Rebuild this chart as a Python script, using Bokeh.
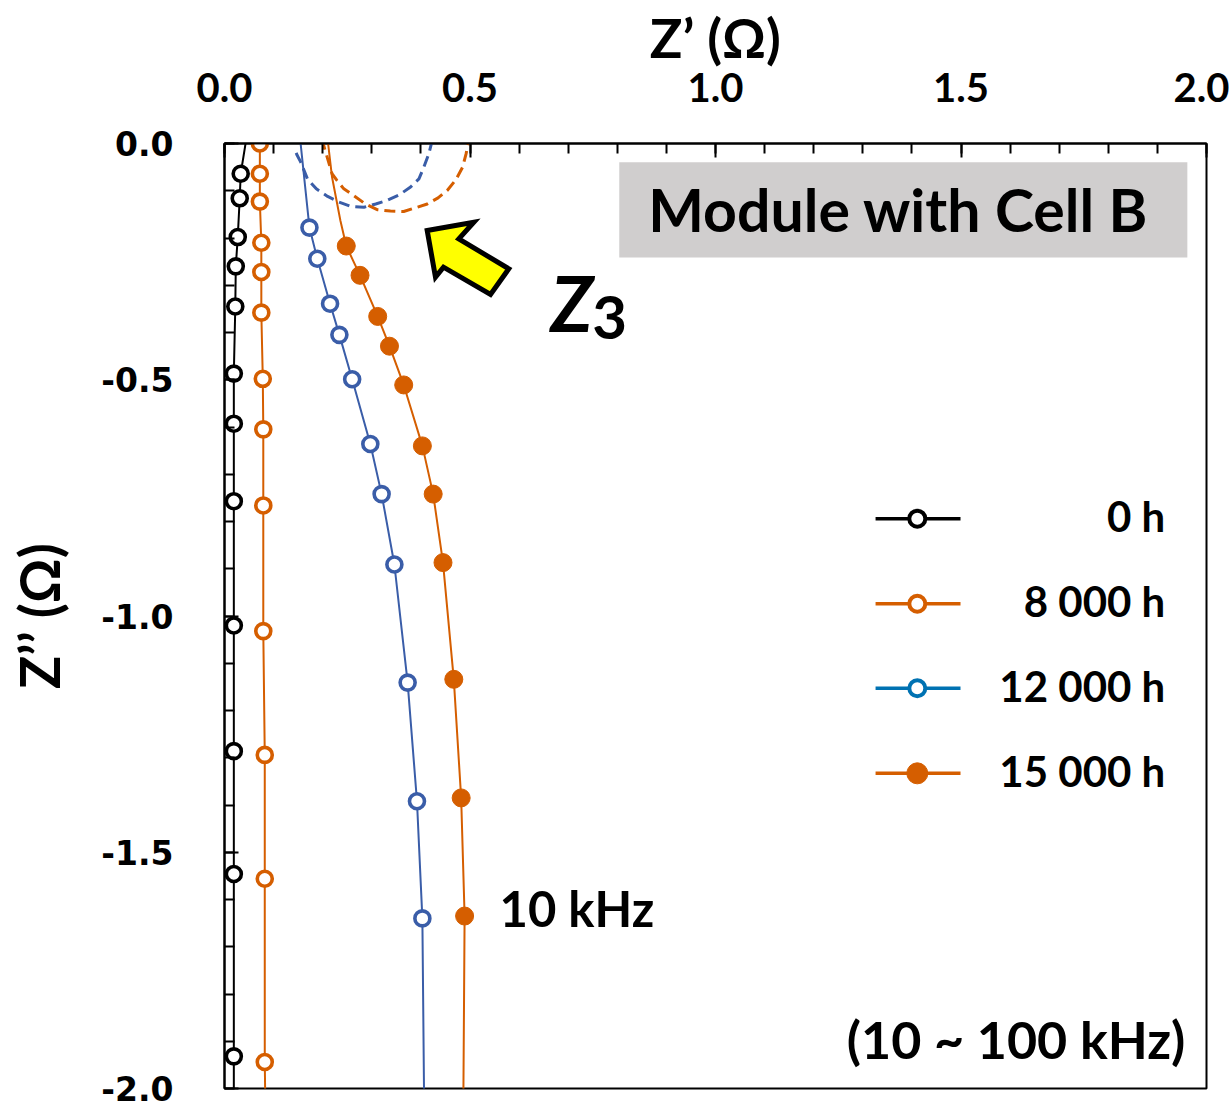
from bokeh.plotting import figure
from bokeh.models import Range1d, FixedTicker, Label, BoxAnnotation, PrintfTickFormatter
from bokeh.embed import file_html
from bokeh.resources import INLINE

# ---------------- data ----------------
series_names = ["0 h", "8 000 h", "12 000 h", "15 000 h"]

# marker points (Z' , Z'') in Ohm
zr_0h = [0.033, 0.031, 0.027, 0.023, 0.022, 0.019, 0.019, 0.019, 0.019, 0.019, 0.019, 0.019]
zi_0h = [-0.064, -0.116, -0.198, -0.260, -0.345, -0.487, -0.593, -0.757, -1.020, -1.286, -1.546, -1.932]

zr_8k = [0.072, 0.072, 0.072, 0.075, 0.075, 0.075, 0.078, 0.079, 0.079, 0.079, 0.082, 0.082, 0.082]
zi_8k = [0.0, -0.064, -0.123, -0.210, -0.272, -0.358, -0.498, -0.605, -0.766, -1.032, -1.294, -1.556, -1.944]

zr_12k = [0.173, 0.189, 0.215, 0.234, 0.260, 0.297, 0.320, 0.346, 0.373, 0.392, 0.403]
zi_12k = [-0.178, -0.244, -0.339, -0.405, -0.499, -0.636, -0.742, -0.891, -1.141, -1.392, -1.640]

zr_15k = [0.248, 0.276, 0.312, 0.336, 0.365, 0.403, 0.425, 0.445, 0.467, 0.482, 0.489]
zi_15k = [-0.217, -0.279, -0.366, -0.429, -0.511, -0.640, -0.742, -0.887, -1.134, -1.385, -1.635]

top_zr_0h, top_zi_0h = [0.046], [0.02]
bot_zr_0h, bot_zi_0h = [0.019], [-2.02]
top_zr_8k, top_zi_8k = [0.072], [0.02]
bot_zr_8k, bot_zi_8k = [0.083], [-2.02]
top_zr_12k, top_zi_12k = [0.153], [0.02]
bot_zr_12k, bot_zi_12k = [0.4065], [-2.02]
top_zr_15k, top_zi_15k = [0.210, 0.211, 0.219, 0.236], [0.02, 0.0, -0.071, -0.163]
bot_zr_15k, bot_zi_15k = [0.4865], [-2.02]

# Z3 arcs (dashed)
arc_zr_12k = [0.146, 0.148, 0.155, 0.169, 0.187, 0.210, 0.231, 0.257, 0.284, 0.308, 0.332,
              0.357, 0.379, 0.396, 0.406, 0.416, 0.421, 0.422]
arc_zi_12k = [-0.020, -0.025, -0.039, -0.075, -0.096, -0.112, -0.123, -0.133, -0.135, -0.128, -0.120,
              -0.108, -0.092, -0.075, -0.050, -0.022, -0.002, 0.01]
arc_zr_15k = [0.201, 0.202, 0.208, 0.219, 0.229, 0.243, 0.263, 0.287, 0.311, 0.338, 0.365,
              0.389, 0.413, 0.435, 0.454, 0.471, 0.485, 0.492, 0.496, 0.4965]
arc_zi_15k = [0.01, -0.004, -0.025, -0.064, -0.078, -0.096, -0.110, -0.128, -0.140, -0.143, -0.144,
              -0.136, -0.128, -0.115, -0.099, -0.077, -0.050, -0.022, -0.001, 0.01]

x_ticks = [0.0, 0.5, 1.0, 1.5, 2.0]
y_ticks = [0.0, -0.5, -1.0, -1.5, -2.0]

BLACK = "#000000"
ORANGE = "#D55E00"
BLUE_DATA = "#3A5DA8"
BLUE_LEG = "#0072B2"

PX_PER_Y = 472.5  # frame pixels per Ohm on the vertical axis


def base_y(y, fs):
    """shift a text anchor so that its baseline lands on y (renderer offset ~0.41 em)"""
    return y + 0.41 * fs / PX_PER_Y


# ---------------- figure ----------------
p = figure(width=1229, height=1109, x_range=Range1d(0, 2), y_range=Range1d(-2, 0),
           output_backend="svg", toolbar_location=None, x_axis_location="above",
           min_border_left=224, min_border_top=143, min_border_right=23, min_border_bottom=21)
p.xgrid.visible = False
p.ygrid.visible = False
p.outline_line_color = "black"
p.outline_line_width = 2
p.background_fill_color = "white"
p.border_fill_color = "white"

xa = p.xaxis[0]
xa.ticker = FixedTicker(ticks=x_ticks, minor_ticks=[i / 10 for i in range(21)])
xa.formatter = PrintfTickFormatter(format="%.1f")
xa.axis_label = "Z’ (Ω)"
xa.axis_label_text_font = "Lato"
xa.axis_label_text_font_style = "bold"
xa.axis_label_text_font_size = "54px"
xa.axis_label_standoff = 0
xa.major_label_text_font = "Lato"
xa.major_label_text_font_style = "bold"
xa.major_label_text_font_size = "40px"
xa.major_label_standoff = 42

ya = p.yaxis[0]
ya.ticker = FixedTicker(ticks=y_ticks, minor_ticks=[-i / 10 for i in range(21)])
ya.formatter = PrintfTickFormatter(format="%.1f")
ya.axis_label = "Z’’ (Ω)"
ya.axis_label_text_font = "Lato"
ya.axis_label_text_font_style = "bold"
ya.axis_label_text_font_size = "55px"
ya.axis_label_standoff = 26
ya.major_label_text_font = "DejaVu Sans"
ya.major_label_text_font_style = "bold"
ya.major_label_text_font_size = "33px"
ya.major_label_standoff = 51

for ax in (xa, ya):
    ax.axis_line_width = 2
    ax.axis_line_color = "black"
    ax.major_tick_in = 14
    ax.major_tick_out = 0
    ax.minor_tick_in = 10
    ax.minor_tick_out = 0
    ax.major_tick_line_width = 2
    ax.minor_tick_line_width = 2
    ax.major_tick_line_color = "black"
    ax.minor_tick_line_color = "black"
    ax.major_label_text_color = "black"
    ax.axis_label_text_color = "black"

# ---------------- title box ----------------
p.add_layout(BoxAnnotation(left=0.804, right=1.961, top=-0.0396, bottom=-0.2413,
                           fill_color="#D0CECE", fill_alpha=1.0, line_alpha=0))
p.add_layout(Label(x=1.3725, y=base_y(-0.1905, 59), text="Module with Cell B", text_font="Lato",
                   text_font_style="bold", text_font_size="59px", text_align="center",
                   text_baseline="alphabetic", text_color="black"))

# dashed arcs
p.line(arc_zr_12k, arc_zi_12k, line_color=BLUE_DATA, line_width=3, line_dash="11 6")
p.line(arc_zr_15k, arc_zi_15k, line_color=ORANGE, line_width=3, line_dash="11 6")

# measured curves
curves = [
    (zr_0h, zi_0h, top_zr_0h, top_zi_0h, bot_zr_0h, bot_zi_0h, BLACK, False),
    (zr_8k, zi_8k, top_zr_8k, top_zi_8k, bot_zr_8k, bot_zi_8k, ORANGE, False),
    (zr_12k, zi_12k, top_zr_12k, top_zi_12k, bot_zr_12k, bot_zi_12k, BLUE_DATA, False),
    (zr_15k, zi_15k, top_zr_15k, top_zi_15k, bot_zr_15k, bot_zi_15k, ORANGE, True),
]
for zr, zi, tzr, tzi, bzr, bzi, col, filled in curves:
    p.line(tzr + zr + bzr, tzi + zi + bzi, line_color=col, line_width=2)
for zr, zi, tzr, tzi, bzr, bzi, col, filled in curves:
    if filled:
        p.scatter(zr, zi, size=18, marker="circle", fill_color=col, line_color=col, line_width=1)
    else:
        p.scatter(zr, zi, size=15, marker="circle", fill_color="white", line_color=col, line_width=3.6)

# ---------------- arrow ----------------
arrow_x = [0.4128, 0.5078, 0.4772, 0.5790, 0.5418, 0.4460, 0.4297]
arrow_y = [-0.1841, -0.1665, -0.2017, -0.2652, -0.3196, -0.2618, -0.2829]
p.patch(arrow_x, arrow_y, fill_color="#FFFF00", line_color="black", line_width=5,
        line_join="miter")

p.add_layout(Label(x=0.664, y=base_y(-0.402, 76), text="Z", text_font="Lato",
                   text_font_style="bold italic", text_font_size="76px",
                   text_baseline="alphabetic", text_color="black"))
p.add_layout(Label(x=0.749, y=base_y(-0.421, 60), text="3", text_font="Lato",
                   text_font_style="bold", text_font_size="60px",
                   text_baseline="alphabetic", text_color="black"))

# ---------------- labels ----------------
p.add_layout(Label(x=0.56, y=base_y(-1.661, 49), text="10 kHz", text_font="Lato",
                   text_font_style="bold", text_font_size="49px",
                   text_baseline="alphabetic", text_color="black"))
p.add_layout(Label(x=1.957, y=base_y(-1.941, 52), text="(10 ~ 100 kHz)", text_font="Lato",
                   text_font_style="bold", text_font_size="52px", text_align="right",
                   text_baseline="alphabetic", text_color="black"))

# ---------------- legend (manual) ----------------
leg_rows_y = [-0.794, -0.974, -1.153, -1.333]
leg_x0, leg_x1, leg_xm, leg_text_x = 1.326, 1.499, 1.411, 1.916
leg_styles = [(BLACK, False), (ORANGE, False), (BLUE_LEG, False), (ORANGE, True)]
for name, ry, (col, filled) in zip(series_names, leg_rows_y, leg_styles):
    p.line([leg_x0, leg_x1], [ry, ry], line_color=col, line_width=3.5)
    if filled:
        p.scatter([leg_xm], [ry], size=21, marker="circle", fill_color=col, line_color=col)
    else:
        p.scatter([leg_xm], [ry], size=16, marker="circle", fill_color="white",
                  line_color=col, line_width=4)
    p.add_layout(Label(x=leg_text_x, y=base_y(ry - 0.0317, 42), text=name, text_font="Lato",
                       text_font_style="bold", text_font_size="42px", text_align="right",
                       text_baseline="alphabetic", text_color="black"))

open("out.html", "w").write(file_html(p, INLINE))
